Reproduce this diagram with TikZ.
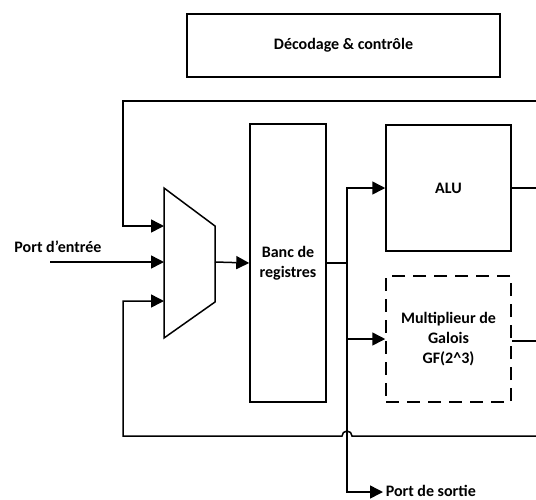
\documentclass[tikz,border=0pt]{standalone}
\usepackage{fontspec}
\setmainfont{Carlito}
\usetikzlibrary{arrows.meta}
\begin{document}
\begin{tikzpicture}[x=1pt, y=-1pt, line width=1.5pt,
  bloc/.style={draw, rectangle, align=center, font=\fontsize{16}{20}\selectfont\bfseries},
  fleche/.style={-{Triangle[length=13pt,width=13pt]}},
  etiq/.style={font=\fontsize{16}{20}\selectfont\bfseries}]
\useasboundingbox (0,0) rectangle (536,499);
\node[bloc, minimum width=313pt, minimum height=63pt] (ctrl) at (343.5,45.5) {Décodage \& contrôle};
\node[bloc, minimum width=76pt, minimum height=278pt] (banc) at (288,263) {Banc de\\registres};
\node[bloc, minimum width=125pt, minimum height=126pt] (alu) at (448.5,188) {ALU};
\node[bloc, dash pattern=on 13pt off 8pt, minimum width=125pt, minimum height=126pt] (mult) at (448.5,339) {Multiplieur de\\Galois\\GF(2\^{}3)};
\draw (164,188) -- (215,226) -- (215,302) -- (164,338) -- cycle;
\coordinate (mux1) at (164,226);
\coordinate (mux2) at (164,262);
\coordinate (mux3) at (164,301);
\coordinate (muxs) at (215,262);
\coordinate (entree) at (50,262);
\node[etiq] (lentree) at (58,247) {Port d’entrée};
\draw[fleche] (entree) -- (mux2);
\coordinate (hautd) at (536,101);
\coordinate (hautg) at (123,101);
\draw[fleche] (hautd) -- (hautg) |- (mux1);
\coordinate (basd) at (536,436);
\coordinate (basg) at (123,436);
\coordinate (saut) at (347,436);
\draw[fleche] (basd) -- ([xshift=5pt]saut) arc (0:-180:5) -- (basg) |- (mux3);
\draw[fleche] (muxs) -- (banc.west);
\coordinate (bus) at (347,263);
\draw (banc.east) -- (bus);
\draw[fleche] (bus) |- (alu.west);
\draw[fleche] (bus) |- (mult.west);
\coordinate (sortie) at (383,492);
\draw[fleche] (bus) |- (sortie);
\node[etiq, anchor=base west, inner sep=2pt] (lsortie) at ([yshift=-4pt]sortie) {Port de sortie};
\coordinate (alud) at (536,188);
\draw (alu.east) -- (alud);
\coordinate (multd) at (536,341);
\draw (mult.east |- multd) -- (multd);
\end{tikzpicture}
\end{document}
